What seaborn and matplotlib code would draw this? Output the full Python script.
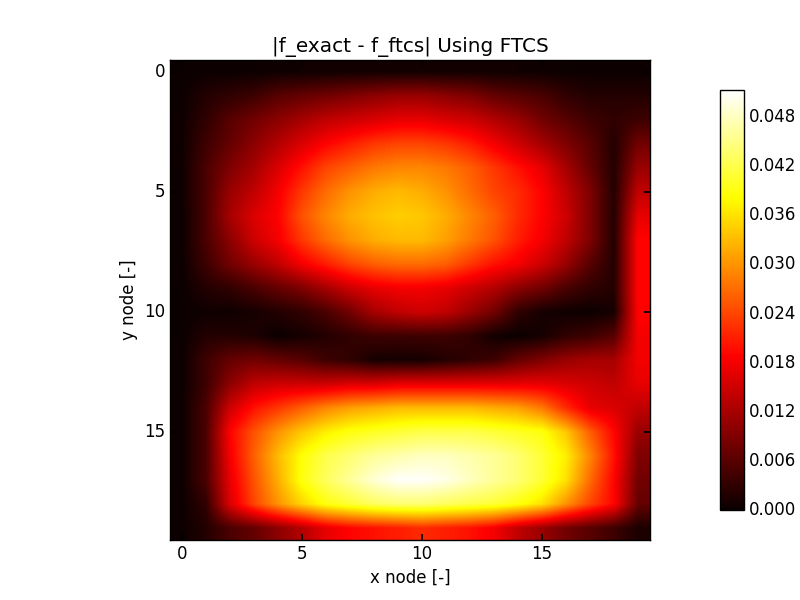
import numpy as np
import matplotlib
matplotlib.use('Agg')
import matplotlib.pyplot as plt
import seaborn as sns

# error values, one list per y node
row_0 = [.0002, .0003, .0003, .0004, .0005, .0006, .0007, .0008, .0008, .0008, .0008, .0008, .0008, .0007, .0006, .0005, .0004, .0003, .0003, .0003]
row_1 = [.0003, .002, .003, .004, .006, .007, .008, .009, .010, .011, .011, .010, .009, .007, .006, .005, .003, .002, .002, .002]
row_2 = [.0005, .003, .006, .008, .010, .012, .014, .015, .016, .017, .017, .016, .015, .013, .011, .008, .006, .004, .003, .004]
row_3 = [.0005, .004, .007, .010, .013, .016, .0188, .021, .023, .024, .024, .023, .021, .018, .015, .012, .009, .006, .002, .008]
row_4 = [.0004, .005, .009, .012, .016, .020, .024, .026, .028, .029, .029, .028, .026, .023, .020, .017, .012, .007, .002, .011]
row_5 = [.0004, .005, .011, .014, .018, .023, .027, .030, .032, .033, .032, .030, .027, .024, .022, .0188, .014, .009, .002, .014]
row_6 = [.0003, .005, .012, .016, .0188, .025, .029, .032, .0335, .0345, .034, .032, .029, .026, .022, .0188, .015, .009, .002, .017]
row_7 = [.0003, .005, .010, .015, .018, .023, .027, .030, .032, .033, .033, .031, .028, .025, .021, .018, .014, .009, .002, .019]
row_8 = [.0003, .004, .008, .011, .014, .018, .021, .024, .026, .027, .027, .026, .023, .020, .018, .015, .011, .006, .002, .019]
row_9 = [.0002, .002, .003, .005, .007, .009, .012, .015, .017, .018, .018, .017, .015, .013, .010, .008, .005, .003, .002, .019]
row_10 = [.0002, .0005, .0005, .001, .002, .003, .005, .008, .012, .014, .015, .014, .011, .008, .003, .001, .0005, .0003, .001, .019]
row_11 = [.0002, .002, .002, .0015, .0002, .001, .002, .003, .004, .004, .004, .004, .003, .0007, .0002, .001, .003, .004, .006, .018]
row_12 = [.0003, .004, .007, .008, .007, .006, .004, .003, .001, .0008, .001, .002, .003, .004, .007, .009, .011, .012, .012, .018]
row_13 = [.0003, .004, .010, .014, .015, .015, .015, .016, .016, .017, .017, .017, .017, .017, .017, .017, .016, .015, .014, .017]
row_14 = [.0003, .005, .015, .020, .023, .026, .029, .031, .032, .033, .033, .033, .033, .032, .031, .028, .022, .017, .016, .014]
row_15 = [.0003, .005, .0188, .025, .030, .034, .037, .039, .040, .041, .042, .042, .042, .041, .040, .039, .034, .026, .019, .011]
row_16 = [.0003, .005, .018, .026, .033, .0385, .042, .044, .046, .047, .048, .048, .047, .046, .044, .041, .037, .029, .020, .009]
row_17 = [.0003, .005, .017, .025, .032, .039, .043, .046, .049, .051, .051, .050, .048, .046, .044, .041, .036, .027, .019, .008]
row_18 = [.0003, .003, .016, .024, .030, .035, .039, .041, .043, .044, .044, .043, .042, .041, .039, .036, .030, .024, .019, .007]
row_19 = [.0003, .002, .005, .007, .010, .013, .017, .019, .020, .021, .022, .021, .020, .018, .014, .011, .008, .006, .004, .0015]

err = np.array([row_0, row_1, row_2, row_3, row_4, row_5, row_6, row_7, row_8, row_9,
                row_10, row_11, row_12, row_13, row_14, row_15, row_16, row_17, row_18, row_19])

node_ticks = [0, 5, 10, 15]
cbar_ticks = [0.000, 0.006, 0.012, 0.018, 0.024, 0.030, 0.036, 0.042, 0.048]

sns.set_theme(style='ticks', rc={
    'font.family': 'DejaVu Sans',
    'xtick.direction': 'in', 'ytick.direction': 'in',
    'xtick.top': True, 'ytick.right': True,
    'xtick.major.size': 4, 'ytick.major.size': 4,
    'xtick.labelsize': 12, 'ytick.labelsize': 12,
    'ytick.alignment': 'center',
    'axes.labelsize': 12, 'axes.titlesize': 14.4,
    'axes.edgecolor': 'black', 'axes.linewidth': 1,
    'xtick.color': 'black', 'ytick.color': 'black', 'text.color': 'black', 'axes.labelcolor': 'black',
})

fig = plt.figure(figsize=(8, 6), dpi=100)
ax = fig.add_axes([0.2125, 0.1, 0.6, 0.8])
cax = fig.add_axes([0.9, 0.15, 0.03, 0.7])

im = ax.imshow(err, cmap=sns.color_palette('hot', as_cmap=True), interpolation='bilinear', vmin=0, vmax=0.0513)
ax.set_xticks(node_ticks)
ax.set_yticks(node_ticks)
ax.set_xlabel('x node [-]')
ax.set_ylabel('y node [-]')
ax.set_title('|f_exact - f_ftcs| Using FTCS')

cb = fig.colorbar(im, cax=cax, ticks=cbar_ticks, format='%.3f')
cb.ax.tick_params(direction='in', length=4, labelsize=12)
cb.outline.set_linewidth(1)

fig.savefig('out.png', dpi=100)
